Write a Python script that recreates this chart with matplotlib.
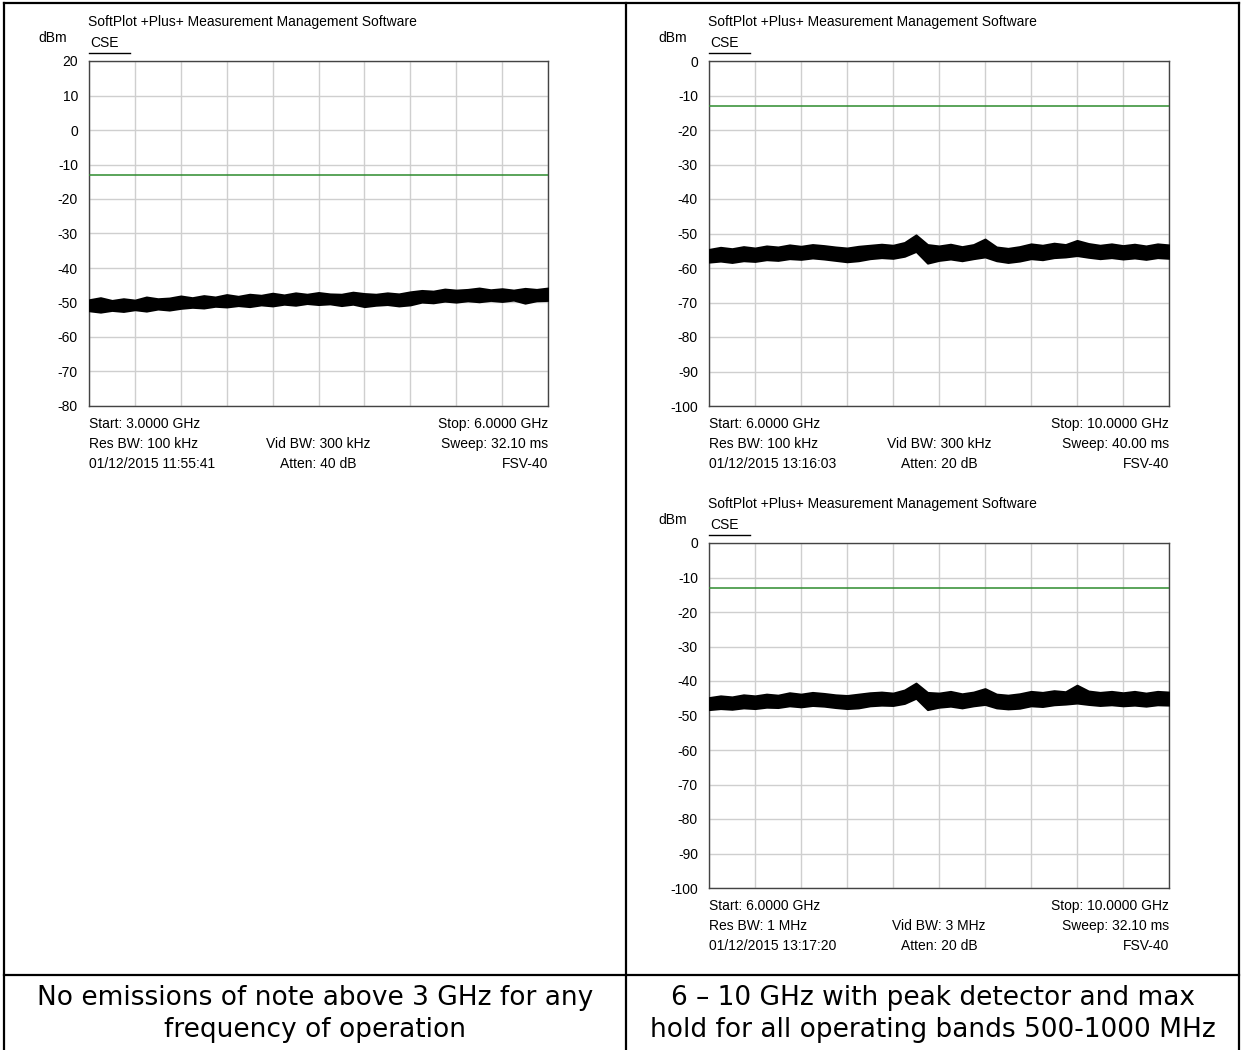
import numpy as np
import matplotlib
matplotlib.use('Agg')
import matplotlib.pyplot as plt
from matplotlib.lines import Line2D

plt.rcParams['font.family'] = ['Liberation Sans', 'DejaVu Sans']

# ---- data ----
limit_dbm = -13.0

# panel 1 : 3 - 6 GHz
p1_start, p1_stop = 3.0, 6.0
p1_upper = [-49.2, -48.6, -49.4, -48.9, -49.3, -48.4, -48.9, -48.7, -48.1, -48.6,
            -48.0, -48.4, -47.7, -48.2, -47.6, -47.9, -47.3, -47.8, -47.2, -47.6,
            -47.1, -47.5, -47.6, -47.0, -47.4, -47.6, -47.2, -47.5, -46.9, -46.5,
            -46.7, -46.1, -46.4, -46.2, -45.8, -46.3, -46.0, -46.4, -45.9, -46.2, -45.8]
p1_lower = [-52.4, -52.8, -52.3, -52.6, -52.1, -52.5, -51.9, -52.2, -51.7, -51.4,
            -51.6, -51.1, -51.3, -50.9, -51.2, -50.7, -51.0, -50.5, -50.8, -50.3,
            -50.6, -50.4, -50.9, -50.5, -51.2, -50.8, -50.6, -51.0, -50.7, -49.9,
            -50.1, -49.6, -49.9, -49.5, -49.8, -49.4, -49.7, -49.3, -50.2, -49.5, -49.4]

# panel 2 : 6 - 10 GHz, 100 kHz RBW
p2_start, p2_stop = 6.0, 10.0
p2_upper = [-54.6, -54.0, -54.4, -53.8, -54.2, -53.6, -53.9, -53.3, -53.7, -53.2,
            -53.5, -53.9, -54.2, -53.7, -53.4, -53.1, -53.4, -52.6, -50.4, -53.2,
            -53.6, -53.1, -53.8, -53.2, -51.6, -53.9, -54.3, -53.8, -53.0, -53.4,
            -52.8, -53.2, -52.0, -52.9, -53.4, -53.0, -53.5, -53.1, -53.6, -53.0, -53.3]
p2_lower = [-58.3, -58.0, -58.4, -57.9, -58.1, -57.6, -57.8, -57.3, -57.5, -57.1,
            -57.4, -57.8, -58.2, -57.9, -57.3, -57.0, -57.2, -56.6, -55.2, -58.6,
            -57.8, -57.4, -57.9, -57.3, -56.8, -57.9, -58.4, -58.0, -57.3, -57.6,
            -57.0, -56.8, -56.4, -56.9, -57.3, -57.0, -57.4, -57.1, -57.5, -57.0, -57.2]

# panel 3 : 6 - 10 GHz, 1 MHz RBW
p3_start, p3_stop = 6.0, 10.0
p3_upper = [-44.8, -44.3, -44.6, -44.0, -44.3, -43.8, -44.1, -43.4, -43.8, -43.3,
            -43.6, -44.0, -44.2, -43.8, -43.4, -43.2, -43.5, -42.6, -40.6, -43.3,
            -43.5, -43.0, -43.7, -43.2, -42.2, -43.8, -44.1, -43.7, -43.0, -43.3,
            -42.8, -43.1, -41.2, -42.9, -43.3, -43.0, -43.4, -43.0, -43.5, -43.0, -43.2]
p3_lower = [-48.3, -48.0, -48.2, -47.8, -48.0, -47.6, -47.7, -47.2, -47.5, -47.1,
            -47.3, -47.7, -48.0, -47.8, -47.2, -47.0, -47.1, -46.5, -45.0, -48.3,
            -47.6, -47.3, -47.8, -47.2, -46.8, -47.8, -48.1, -47.9, -47.2, -47.4,
            -46.9, -46.7, -46.4, -46.8, -47.1, -46.9, -47.2, -47.0, -47.3, -46.9, -47.0]

p1_info = [['Start: 3.0000 GHz', '', 'Stop: 6.0000 GHz'],
           ['Res BW: 100 kHz', 'Vid BW: 300 kHz', 'Sweep: 32.10 ms'],
           ['01/12/2015 11:55:41', 'Atten: 40 dB', 'FSV-40']]
p2_info = [['Start: 6.0000 GHz', '', 'Stop: 10.0000 GHz'],
           ['Res BW: 100 kHz', 'Vid BW: 300 kHz', 'Sweep: 40.00 ms'],
           ['01/12/2015 13:16:03', 'Atten: 20 dB', 'FSV-40']]
p3_info = [['Start: 6.0000 GHz', '', 'Stop: 10.0000 GHz'],
           ['Res BW: 1 MHz', 'Vid BW: 3 MHz', 'Sweep: 32.10 ms'],
           ['01/12/2015 13:17:20', 'Atten: 20 dB', 'FSV-40']]

caption_left = ['No emissions of note above 3 GHz for any', 'frequency of operation']
caption_right = ['6 \u2013 10 GHz with peak detector and max', 'hold for all operating bands 500-1000 MHz']

# ---- layout (pixels) ----
W, H = 1242, 1050
fig = plt.figure(figsize=(W / 100, H / 100), dpi=100)
fs = 10


def fx(x):
    return x / W


def fy(y):
    return 1 - y / H


def panel(box, start, stop, upper, lower, ytop, info):
    left, top, right, bottom = box
    ax = fig.add_axes([fx(left), fy(bottom), fx(right - left), (bottom - top) / H])
    freq = np.linspace(start, stop, len(upper))
    ax.fill_between(freq, lower, upper, color='k', lw=1.4, edgecolor='k', zorder=3)
    ax.axhline(limit_dbm, color='#2e8b2e', lw=1.1, zorder=4)
    ax.set_xlim(start, stop)
    ax.set_ylim(ytop - 100, ytop)
    ax.set_xticks(np.linspace(start, stop, 11))
    ax.set_yticks(np.arange(ytop - 100, ytop + 1, 10))
    ax.set_yticklabels([str(v) for v in np.arange(ytop - 100, ytop + 1, 10)], fontsize=fs)
    ax.tick_params(axis='x', length=0, labelbottom=False)
    ax.tick_params(axis='y', length=0, pad=8)
    ax.grid(color='#cfcfcf', lw=1.0)
    ax.set_axisbelow(True)
    for s in ax.spines.values():
        s.set_color('#444444')
        s.set_linewidth(1.0)

    fig.text(fx(left - 1), fy(top - 39), 'SoftPlot +Plus+ Measurement Management Software',
             fontsize=fs, va='center', ha='left')
    fig.text(fx(left - 22), fy(top - 23), 'dBm', fontsize=fs, va='center', ha='right')
    fig.text(fx(left + 1), fy(top - 18), 'CSE', fontsize=fs, va='center', ha='left')
    fig.add_artist(Line2D([fx(left), fx(left + 41)], [fy(top - 8), fy(top - 8)],
                          color='k', lw=1.0))
    mid = (left + right) / 2
    for k, row in enumerate(info):
        yy = fy(bottom + 18 + 20 * k)
        fig.text(fx(left), yy, row[0], fontsize=fs, va='center', ha='left')
        fig.text(fx(mid), yy, row[1], fontsize=fs, va='center', ha='center')
        fig.text(fx(right), yy, row[2], fontsize=fs, va='center', ha='right')
    return ax


panel((89, 61, 548, 406), p1_start, p1_stop, p1_upper, p1_lower, 20, p1_info)
panel((709, 61, 1169, 406), p2_start, p2_stop, p2_upper, p2_lower, 0, p2_info)
panel((709, 543, 1169, 888), p3_start, p3_stop, p3_upper, p3_lower, 0, p3_info)

# table borders
for (x0, y0, x1, y1) in [(4, 3, 4, 1050), (626, 3, 626, 1050), (1239, 3, 1239, 1050),
                         (4, 3, 1239, 3), (4, 975, 1239, 975)]:
    fig.add_artist(Line2D([fx(x0), fx(x1)], [fy(y0), fy(y1)], color='k', lw=1.6))

for k, line in enumerate(caption_left):
    fig.text(fx(315), fy(998 + 32 * k), line, fontsize=19, family='DejaVu Sans',
             va='center', ha='center')
for k, line in enumerate(caption_right):
    fig.text(fx(933), fy(998 + 32 * k), line, fontsize=19, family='DejaVu Sans',
             va='center', ha='center')

fig.savefig('out.png', dpi=100)
plt.close(fig)
